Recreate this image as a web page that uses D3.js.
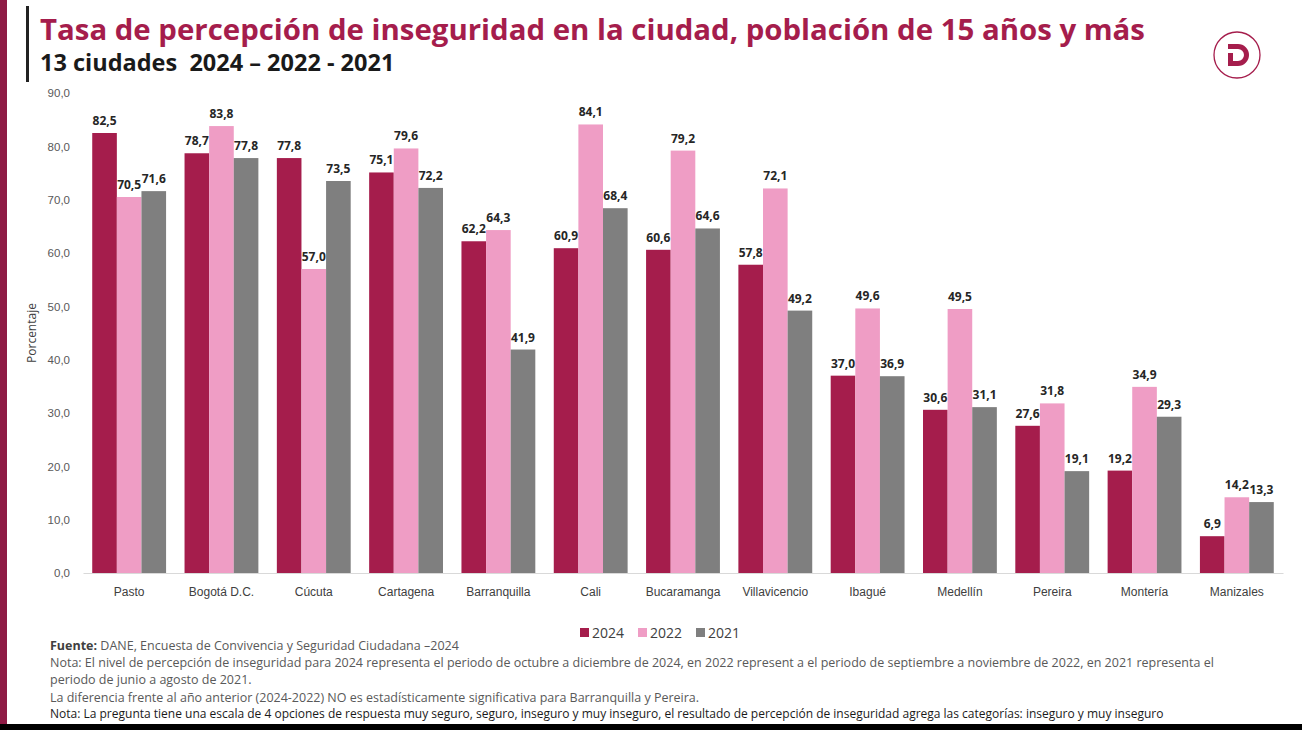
<!DOCTYPE html>
<html>
<head>
<meta charset="utf-8">
<script src="https://cdn.jsdelivr.net/npm/d3@7"></script>
<style>
  html, body { margin: 0; padding: 0; background: #fff; }
  svg { display: block; font-family: "Open Sans", "Noto Sans", sans-serif; }
</style>
</head>
<body>
<svg id="chart"></svg>
<script>
// Data
const cities = ["Pasto", "Bogotá D.C.", "Cúcuta", "Cartagena", "Barranquilla", "Cali",
  "Bucaramanga", "Villavicencio", "Ibagué", "Medellín", "Pereira", "Montería", "Manizales"];
const years = ["2024", "2022", "2021"];
const v2024 = [82.5, 78.7, 77.8, 75.1, 62.2, 60.9, 60.6, 57.8, 37.0, 30.6, 27.6, 19.2, 6.9];
const v2022 = [70.5, 83.8, 57.0, 79.6, 64.3, 84.1, 79.2, 72.1, 49.6, 49.5, 31.8, 34.9, 14.2];
const v2021 = [71.6, 77.8, 73.5, 72.2, 41.9, 68.4, 64.6, 49.2, 36.9, 31.1, 19.1, 29.3, 13.3];
const yTicks = [0, 10, 20, 30, 40, 50, 60, 70, 80, 90];
const notes = [
  "Nota: El nivel de percepción de inseguridad para 2024 representa el periodo de octubre a diciembre de 2024, en 2022 represent a el periodo de septiembre a noviembre de 2022, en 2021 representa el",
  "periodo de junio a agosto de 2021.",
  "La diferencia frente al año anterior (2024-2022) NO es estadísticamente significativa para Barranquilla y Pereira."
];
const lastNote = "Nota: La pregunta tiene una escala de 4 opciones de respuesta muy seguro, seguro, inseguro y muy inseguro, el resultado de percepción de inseguridad agrega las categorías: inseguro y muy inseguro";

const width = 1302, height = 730;
const colors = { "2024": "#A51D4C", "2022": "#EF9DC5", "2021": "#7F7F7F" };
const maroon = "#A51D4C";
const fmt = v => d3.format(".1f")(v).replace(".", ",");

const series = { "2024": v2024, "2022": v2022, "2021": v2021 };
const rows = cities.map((c, i) => ({ city: c, vals: years.map(y => ({ year: y, v: series[y][i] })) }));

const svg = d3.select("#chart")
  .attr("width", width)
  .attr("height", height)
  .attr("viewBox", [0, 0, width, height]);

// frame decoration
svg.append("rect").attr("x", 0).attr("y", 0).attr("width", 7).attr("height", 724).attr("fill", "#8E1B45");
svg.append("rect").attr("x", 0).attr("y", 724).attr("width", width).attr("height", 6).attr("fill", "#000");
svg.append("rect").attr("x", 26).attr("y", 6).attr("width", 3).attr("height", 76).attr("fill", "#222");

// title
svg.append("text")
  .attr("x", 40).attr("y", 40)
  .attr("font-size", 29.4).attr("font-weight", 700)
  .attr("fill", maroon)
  .text("Tasa de percepción de inseguridad en la ciudad, población de 15 años y más");
svg.append("text")
  .attr("x", 40).attr("y", 71)
  .attr("font-size", 23.5).attr("font-weight", 700)
  .attr("fill", "#1a1a1a")
  .attr("xml:space", "preserve")
  .text("13 ciudades  2024 – 2022 - 2021");

// logo
const logo = svg.append("g").attr("transform", "translate(1237,55)");
logo.append("circle").attr("r", 23).attr("fill", "none").attr("stroke", maroon).attr("stroke-width", 1.3);
logo.append("path")
  .attr("d", "M-9,-11 L1,-11 A11,11 0 0 1 1,11 L-9,11 L-9,-2 L-4,-2 L-4,6 L1,6 A6,6 0 0 0 1,-6 L-9,-6 Z")
  .attr("fill", maroon);

// scales
const x = d3.scaleBand().domain(cities).range([83, 1283]).paddingInner(0.2).paddingOuter(0.1);
const xs = d3.scaleBand().domain(years).range([0, x.bandwidth()]);
const y = d3.scaleLinear().domain([0, 90]).range([573, 93]);

// y axis
const yAxis = svg.append("g").attr("transform", "translate(70,0)")
  .call(d3.axisLeft(y).tickValues(yTicks).tickFormat(fmt).tickSize(0).tickPadding(0));
yAxis.select(".domain").remove();
yAxis.selectAll("text").attr("font-size", 11.5).attr("fill", "#595959").attr("font-family", "inherit");

svg.append("text")
  .attr("transform", `translate(36,${y(45)}) rotate(-90)`)
  .attr("text-anchor", "middle")
  .attr("font-size", 12).attr("fill", "#404040")
  .text("Porcentaje");

// x axis
const xAxis = svg.append("g").attr("transform", "translate(0,573)")
  .call(d3.axisBottom(x).tickSize(0).tickPadding(14));
xAxis.select(".domain").attr("stroke", "#d9d9d9").attr("stroke-width", 1.2);
xAxis.selectAll("text").attr("font-size", 12).attr("fill", "#404040").attr("font-family", "inherit");

// bars
const groups = svg.append("g").selectAll("g").data(rows).join("g")
  .attr("transform", d => `translate(${x(d.city)},0)`);
groups.selectAll("rect").data(d => d.vals).join("rect")
  .attr("x", d => xs(d.year))
  .attr("y", d => y(d.v))
  .attr("width", xs.bandwidth())
  .attr("height", d => y(0) - y(d.v))
  .attr("fill", d => colors[d.year]);
groups.selectAll("text").data(d => d.vals).join("text")
  .attr("x", d => xs(d.year) + xs.bandwidth() / 2)
  .attr("y", d => y(d.v) - 8)
  .attr("text-anchor", "middle")
  .attr("font-size", 12).attr("font-weight", 700).attr("fill", "#262626")
  .text(d => fmt(d.v));

// legend
const legend = svg.append("g").attr("transform", "translate(580,633)");
const lg = legend.selectAll("g").data(years).join("g")
  .attr("transform", (d, i) => `translate(${i * 58},0)`);
lg.append("rect").attr("x", 0).attr("y", -5).attr("width", 9).attr("height", 9).attr("fill", d => colors[d]);
lg.append("text").attr("x", 12).attr("y", 5).attr("font-size", 14).attr("fill", "#404040").text(d => d);

// footnotes
const foot = svg.append("g").attr("font-size", 12.5).attr("fill", "#595959");
const src = foot.append("text").attr("x", 50).attr("y", 650);
src.append("tspan").attr("font-weight", 700).attr("fill", "#404040").text("Fuente:");
src.append("tspan").text(" DANE, Encuesta de Convivencia y Seguridad Ciudadana –2024");
foot.selectAll("text.note").data(notes).join("text")
  .attr("class", "note")
  .attr("x", 50)
  .attr("y", (d, i) => [667, 684, 702][i])
  .text(d => d);
foot.append("text").attr("x", 50).attr("y", 718).attr("font-size", 12).attr("fill", "#1a1a1a").text(lastNote);
</script>
</body>
</html>
